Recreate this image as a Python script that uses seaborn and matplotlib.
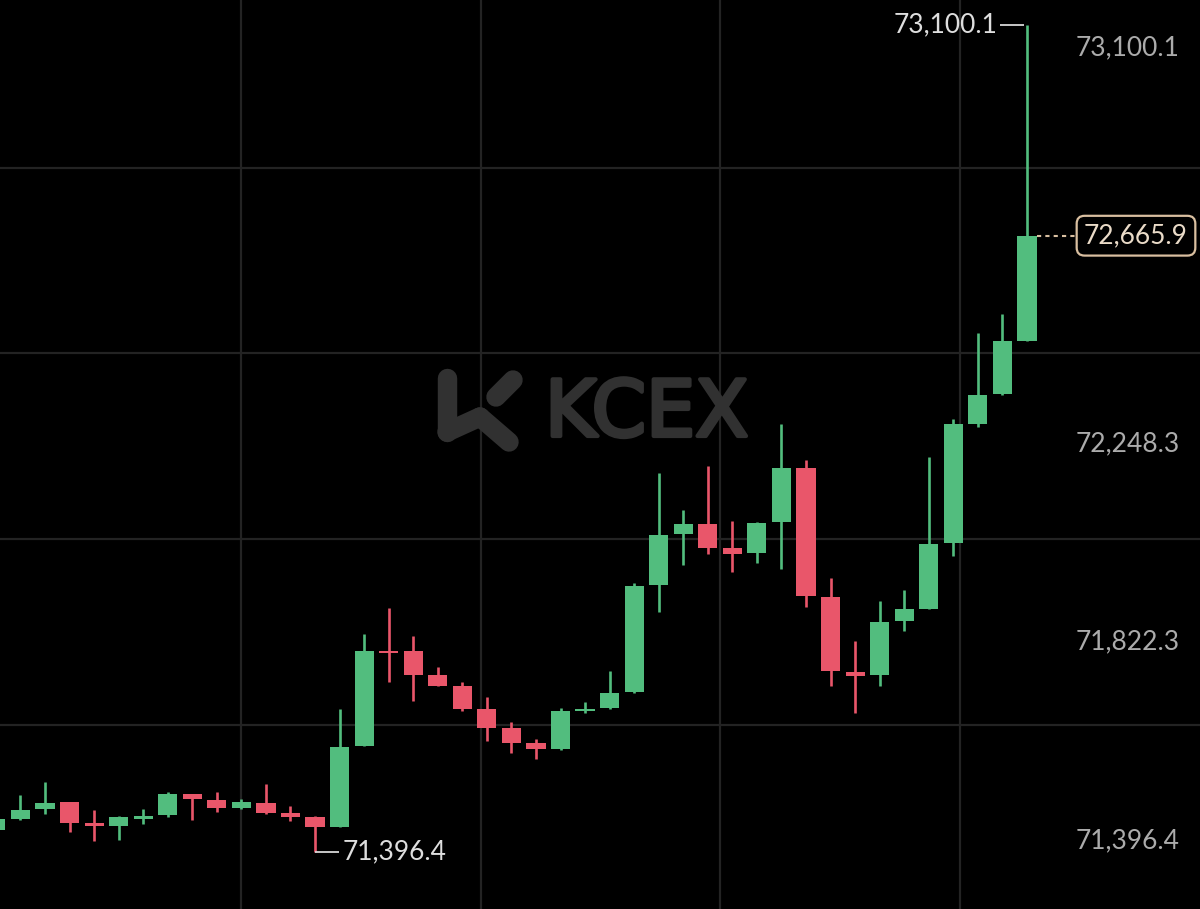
import numpy as np
import pandas as pd
import matplotlib
matplotlib.use("Agg")
import matplotlib.pyplot as plt
from matplotlib.lines import Line2D
import matplotlib.patheffects as pe
import matplotlib.transforms as mtransforms
import seaborn as sns

# OHLC candles (oldest first)
opens = [71441.2, 71464.5, 71483.8, 71498.2, 71455.0, 71449.4, 71464.5, 71471.4, 71514.7, 71503.0,
         71485.9, 71497.4, 71475.6, 71468.6, 71448.0, 71614.3, 71810.0, 71810.0, 71760.0, 71737.9,
         71689.9, 71652.0, 71619.8, 71607.5, 71686.4, 71692.0, 71724.9, 71946.1, 72050.5, 72072.4,
         72021.7, 72011.4, 72075.3, 72186.5, 71921.9, 71767.4, 71760.6, 71871.9, 71896.6, 72032.0,
         72277.8, 72339.0, 72449.5]
highs = [71470.0, 71513.3, 71540.7, 71499.5, 71482.4, 71470.0, 71483.8, 71520.1, 71515.5, 71519.5,
         71504.4, 71536.0, 71490.6, 71469.5, 71689.9, 71845.1, 71898.0, 71841.0, 71776.5, 71746.8,
         71715.9, 71664.3, 71629.3, 71692.0, 71705.6, 71768.8, 71949.6, 72177.5, 72100.6, 72191.9,
         72078.6, 72075.0, 72277.8, 72203.7, 71959.9, 71831.3, 71913.1, 71935.7, 72210.5, 72287.5,
         72466.0, 72504.5, 73100.1]
lows = [71437.1, 71462.0, 71474.1, 71437.7, 71419.1, 71420.5, 71453.5, 71467.3, 71461.8, 71478.9,
        71485.5, 71475.0, 71460.3, 71396.4, 71447.0, 71613.5, 71745.5, 71707.6, 71737.0, 71686.4,
        71625.2, 71600.5, 71587.5, 71606.5, 71681.7, 71691.0, 71724.0, 71891.0, 71987.3, 72009.3,
        71973.5, 71990.8, 71978.4, 71901.3, 71737.9, 71681.7, 71738.5, 71851.9, 71896.0, 72005.8,
        72271.0, 72338.5, 72449.0]
closes = [71463.8, 71482.4, 71497.4, 71455.0, 71450.0, 71468.6, 71470.0, 71514.7, 71504.4, 71485.9,
          71498.2, 71475.6, 71468.6, 71446.7, 71612.8, 71810.7, 71805.3, 71760.6, 71737.9, 71689.9,
          71652.0, 71619.8, 71607.5, 71686.4, 71690.5, 71724.1, 71944.6, 72049.1, 72071.8, 72022.9,
          72009.9, 72074.4, 72186.5, 71924.0, 71768.8, 71759.2, 71870.4, 71896.0, 72030.5, 72277.2,
          72337.6, 72448.9, 72665.9]

price_labels = [73100.1, 72248.3, 71822.3, 71396.4]
grid_prices = [72804.8, 72423.5, 72040.2, 71658.2]
grid_times = [9.97, 19.76, 29.5, 39.28]

UP = "#52bd7e"
DOWN = "#e9566a"
BG = "#000000"

df = pd.DataFrame({"open": opens, "high": highs, "low": lows, "close": closes})
df["idx"] = np.arange(len(df))
df["up"] = df["close"] >= df["open"]
df["color"] = np.where(df["up"], UP, DOWN)
df["bottom"] = df[["open", "close"]].min(axis=1)
df["height"] = (df["close"] - df["open"]).abs().clip(lower=4.0)

sns.set_theme(style="dark", rc={"axes.facecolor": BG, "figure.facecolor": BG})
plt.rcParams["font.family"] = ["Lato", "DejaVu Sans"]

fig = plt.figure(figsize=(12, 9.09), dpi=100)
ax = fig.add_axes([0, 0, 1, 1])
ax.set_facecolor(BG)
ax.set_xlim(0.167, 49.05)
ax.set_ylim(71278.4, 73151.6)

# grid
for gp in grid_prices:
    ax.axhline(gp, color="#232323", lw=1.6, zorder=0)
for gt in grid_times:
    ax.axvline(gt, color="#232323", lw=1.6, zorder=0)

# watermark logo + wordmark
def px(x, y):
    return x / 1200, 1 - y / 909

wm = "#313131"
for (x0, y0), (x1, y1) in [((447, 378), (447, 432)), ((447, 432), (480, 417)),
                           ((480, 417), (509, 442)), ((496, 397), (513, 380))]:
    a, b = px(x0, y0)
    c, d = px(x1, y1)
    fig.add_artist(Line2D([a, c], [b, d], transform=fig.transFigure, color=wm,
                          lw=14, solid_capstyle="round", zorder=0.5))
fig.text(545 / 1200, 1 - 414 / 909, "KCEX", color=wm, fontsize=56,
         fontweight="normal", family=["DejaVu Sans"], ha="left", va="center", zorder=0.5,
         path_effects=[pe.withStroke(linewidth=3, foreground=wm)])

# candles
ax.vlines(df["idx"], df["low"], df["high"], colors=df["color"], lw=1.9, zorder=2)
ax.bar(df["idx"], df["height"], bottom=df["bottom"], width=0.78, color=df["color"],
       linewidth=0, zorder=3)

ax.set_xticks([])
ax.set_yticks([])
for s in ax.spines.values():
    s.set_visible(False)

# right-hand price scale
ax2 = ax.twinx()
ax2.set_ylim(71243.9, 73196.8)
ax2.set_yticks(price_labels)
ax2.set_yticklabels([f"{p:,.1f}" for p in price_labels])
ax2.tick_params(axis="y", length=0, pad=-14.5, labelsize=19, labelcolor="#ababab")
for t in ax2.get_yticklabels():
    t.set_horizontalalignment("right")
for s in ax2.spines.values():
    s.set_visible(False)
ax2.grid(False)

# high / low markers
last = df.index[-1]
hi_i = df["high"].idxmax()
lo_i = df["low"].idxmin()
ax.hlines(df.loc[hi_i, "high"], hi_i - 1.1, hi_i - 0.12, color="#d8d8d8", lw=1.3, zorder=4)
ax.text(hi_i - 1.2, df.loc[hi_i, "high"], f"{df.loc[hi_i, 'high']:,.1f}", color="#dedede",
        fontsize=19, ha="right", va="center")
ax.hlines(df.loc[lo_i, "low"], lo_i, lo_i + 0.98, color="#d8d8d8", lw=1.3, zorder=4)
ax.text(lo_i + 1.12, df.loc[lo_i, "low"], f"{df.loc[lo_i, 'low']:,.1f}", color="#dedede",
        fontsize=19, ha="left", va="center")

# last price tag
last_close = df.loc[last, "close"]
ax.hlines(last_close, last + 0.39, 43.96, color="#d9bfa0", lw=1.5, linestyles=(0, (2, 2)), zorder=4)
trans = mtransforms.blended_transform_factory(ax.transAxes, ax.transData)
ax.text(1136 / 1200, last_close, f"{last_close:,.1f}", transform=trans, color="#eadbc8",
        fontsize=19, ha="center", va="center",
        bbox=dict(boxstyle="round,pad=0.28,rounding_size=0.3", fc=BG, ec="#d9bfa0", lw=1.6))

fig.savefig("out.png", dpi=100, facecolor=BG)
